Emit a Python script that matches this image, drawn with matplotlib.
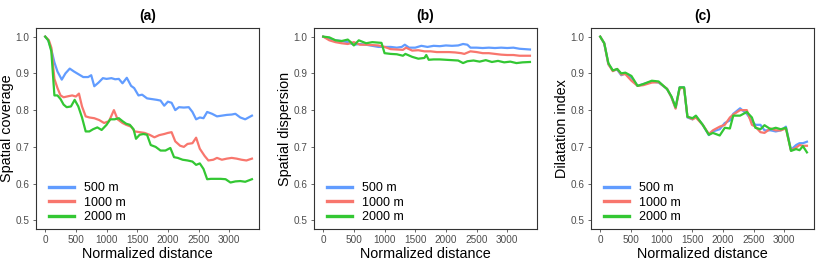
import matplotlib.pyplot as plt

plt.rcParams["font.family"] = ["Liberation Sans", "DejaVu Sans"]

LABELS = ["500 m", "1000 m", "2000 m"]
COLORS = ["#619CFF", "#F8766D", "#33C733"]
TITLES = ["(a)", "(b)", "(c)"]
YLABELS = ["Spatial coverage", "Spatial dispersion", "Dilatation index"]

# panel (a) spatial coverage
cov_500_x = [0, 50, 100, 150, 200, 270, 330, 400, 470, 540, 620, 700, 750, 800, 870,
             940, 1000, 1080, 1140, 1200, 1260, 1330, 1400, 1450, 1520, 1580, 1660,
             1740, 1820, 1880, 1940, 2000, 2060, 2120, 2180, 2260, 2340, 2400, 2460,
             2520, 2580, 2640, 2720, 2800, 2880, 2960, 3040, 3100, 3180, 3260, 3370]
cov_500_y = [1.0, 0.99, 0.965, 0.93, 0.905, 0.883, 0.9, 0.913, 0.905, 0.898, 0.89,
             0.89, 0.895, 0.865, 0.875, 0.887, 0.885, 0.887, 0.884, 0.885, 0.873,
             0.888, 0.866, 0.86, 0.84, 0.842, 0.832, 0.83, 0.828, 0.826, 0.812,
             0.823, 0.82, 0.8, 0.808, 0.807, 0.808, 0.795, 0.775, 0.78, 0.778, 0.795,
             0.79, 0.783, 0.785, 0.787, 0.788, 0.79, 0.78, 0.775, 0.785]
cov_1000_x = [0, 60, 100, 150, 200, 250, 300, 380, 440, 500, 550, 600, 660, 720, 800,
              880, 960, 1040, 1120, 1180, 1260, 1320, 1400, 1460, 1540, 1620, 1700,
              1780, 1860, 1940, 2000, 2060, 2120, 2200, 2260, 2320, 2400, 2460, 2520,
              2600, 2660, 2740, 2800, 2880, 2960, 3040, 3120, 3200, 3280, 3370]
cov_1000_y = [1.0, 0.99, 0.97, 0.885, 0.86, 0.84, 0.835, 0.838, 0.84, 0.837, 0.845,
              0.81, 0.783, 0.78, 0.778, 0.773, 0.765, 0.77, 0.8, 0.775, 0.765, 0.76,
              0.755, 0.742, 0.74, 0.738, 0.733, 0.726, 0.732, 0.735, 0.738, 0.74,
              0.715, 0.703, 0.7, 0.708, 0.71, 0.725, 0.695, 0.675, 0.663, 0.665,
              0.67, 0.665, 0.668, 0.67, 0.668, 0.665, 0.663, 0.668]
cov_2000_x = [0, 50, 100, 150, 200, 250, 300, 350, 420, 480, 540, 600, 660, 720, 780,
              850, 920, 1000, 1060, 1130, 1200, 1260, 1320, 1380, 1440, 1480, 1540,
              1600, 1660, 1720, 1800, 1880, 1960, 2040, 2100, 2160, 2240, 2320, 2400,
              2460, 2520, 2580, 2640, 2700, 2780, 2860, 2940, 3020, 3100, 3180, 3260,
              3370]
cov_2000_y = [1.0, 0.99, 0.96, 0.84, 0.84, 0.83, 0.815, 0.808, 0.81, 0.828, 0.81,
              0.78, 0.742, 0.742, 0.748, 0.753, 0.746, 0.76, 0.775, 0.775, 0.778,
              0.77, 0.763, 0.76, 0.748, 0.722, 0.733, 0.735, 0.733, 0.705, 0.7, 0.69,
              0.69, 0.697, 0.672, 0.67, 0.665, 0.663, 0.66, 0.651, 0.655, 0.64, 0.612,
              0.613, 0.613, 0.613, 0.612, 0.603, 0.606, 0.607, 0.605, 0.612]

# panel (b) spatial dispersion
dis_500_x = [0, 100, 200, 300, 400, 500, 600, 700, 800, 900, 1000, 1100, 1200, 1280,
             1330, 1400, 1500, 1600, 1700, 1800, 1900, 2000, 2100, 2200, 2280, 2350,
             2400, 2500, 2600, 2700, 2800, 2900, 3000, 3100, 3200, 3370]
dis_500_y = [1.0, 0.995, 0.99, 0.988, 0.985, 0.978, 0.98, 0.978, 0.975, 0.972, 0.972,
             0.972, 0.97, 0.972, 0.978, 0.97, 0.97, 0.975, 0.972, 0.975, 0.974, 0.976,
             0.975, 0.976, 0.98, 0.978, 0.97, 0.97, 0.969, 0.97, 0.969, 0.97, 0.969,
             0.97, 0.967, 0.965]
dis_1000_x = [0, 100, 200, 300, 400, 500, 600, 700, 800, 900, 1000, 1100, 1200, 1300,
              1350, 1450, 1550, 1650, 1750, 1850, 1950, 2050, 2150, 2250, 2300, 2400,
              2500, 2600, 2700, 2800, 2900, 3000, 3100, 3200, 3370]
dis_1000_y = [1.0, 0.99, 0.985, 0.982, 0.98, 0.985, 0.978, 0.978, 0.977, 0.976,
              0.972, 0.966, 0.965, 0.964, 0.97, 0.962, 0.963, 0.96, 0.96, 0.958, 0.958,
              0.958, 0.957, 0.955, 0.953, 0.96, 0.958, 0.955, 0.955, 0.953, 0.951,
              0.95, 0.95, 0.948, 0.948]
dis_2000_x = [0, 100, 200, 300, 400, 450, 500, 580, 700, 800, 950, 1000, 1100, 1200,
              1300, 1340, 1450, 1550, 1650, 1680, 1720, 1800, 1900, 2000, 2100, 2200,
              2280, 2350, 2450, 2550, 2650, 2750, 2850, 2950, 3050, 3150, 3250, 3370]
dis_2000_y = [1.0, 0.998, 0.99, 0.988, 0.992, 0.985, 0.976, 0.99, 0.982, 0.985, 0.983,
              0.955, 0.953, 0.952, 0.948, 0.953, 0.945, 0.94, 0.942, 0.95, 0.937,
              0.938, 0.938, 0.937, 0.936, 0.935, 0.928, 0.933, 0.935, 0.932, 0.936,
              0.931, 0.934, 0.93, 0.932, 0.928, 0.93, 0.931]

# panel (c) dilatation index
dil_x = [0, 66, 133, 205, 277, 343, 410, 509, 609, 703, 841, 952, 1090, 1162, 1229,
         1295, 1367, 1422, 1505, 1560, 1671, 1771, 1837, 1948, 2031, 2114, 2169, 2280,
         2390, 2473, 2529, 2612, 2678, 2778, 2861, 2944, 3027, 3110, 3193, 3249, 3304,
         3370]
dil_500_y = [1.0, 0.982, 0.925, 0.908, 0.91, 0.895, 0.9, 0.888, 0.866, 0.871, 0.878,
             0.875, 0.858, 0.835, 0.806, 0.862, 0.862, 0.78, 0.775, 0.783, 0.76, 0.732,
             0.742, 0.748, 0.765, 0.772, 0.79, 0.805, 0.79, 0.77, 0.76, 0.76, 0.745,
             0.745, 0.742, 0.745, 0.755, 0.692, 0.705, 0.71, 0.71, 0.714]
dil_1000_y = [1.0, 0.982, 0.925, 0.906, 0.912, 0.897, 0.898, 0.88, 0.866, 0.868,
              0.875, 0.876, 0.858, 0.835, 0.804, 0.86, 0.86, 0.782, 0.775, 0.78, 0.76,
              0.735, 0.745, 0.755, 0.76, 0.78, 0.788, 0.8, 0.8, 0.76, 0.755, 0.74,
              0.738, 0.75, 0.745, 0.745, 0.75, 0.69, 0.698, 0.705, 0.703, 0.703]
dil_2000_y = [1.0, 0.982, 0.928, 0.908, 0.912, 0.9, 0.902, 0.893, 0.866, 0.871, 0.88,
              0.878, 0.857, 0.837, 0.808, 0.862, 0.862, 0.782, 0.778, 0.785, 0.76,
              0.733, 0.738, 0.731, 0.752, 0.75, 0.785, 0.785, 0.795, 0.78, 0.752,
              0.748, 0.759, 0.748, 0.752, 0.748, 0.752, 0.689, 0.694, 0.691, 0.702,
              0.685]

panels = [
    [(cov_500_x, cov_500_y), (cov_1000_x, cov_1000_y), (cov_2000_x, cov_2000_y)],
    [(dis_500_x, dis_500_y), (dis_1000_x, dis_1000_y), (dis_2000_x, dis_2000_y)],
    [(dil_x, dil_500_y), (dil_x, dil_1000_y), (dil_x, dil_2000_y)],
]

fig = plt.figure(figsize=(8.3, 2.62), dpi=100)
lefts = [36 / 830, 314 / 830, 591 / 830]
for i, series in enumerate(panels):
    ax = fig.add_axes([lefts[i], 33 / 262, 223 / 830, 201 / 262])
    for (x, y), color, label in zip(series, COLORS, LABELS):
        ax.plot(x, y, color=color, lw=1.6, label=label, solid_joinstyle="round")
    ax.set_xlim(-150, 3485)
    ax.set_ylim(0.4765, 1.0235)
    ax.set_xticks([0, 500, 1000, 1500, 2000, 2500, 3000])
    ax.set_yticks([0.5, 0.6, 0.7, 0.8, 0.9, 1.0])
    ax.set_yticklabels(["0.5", "0.6", "0.7", "0.8", "0.9", "1.0"])
    ax.tick_params(labelsize=7.2, colors="#4D4D4D", length=2.5, width=0.6, pad=2)
    for sp in ax.spines.values():
        sp.set_color("#333333")
        sp.set_linewidth(0.8)
    ax.set_xlabel("Normalized distance", fontsize=10.4, labelpad=1)
    ax.set_ylabel(YLABELS[i], fontsize=10.4, labelpad=1)
    ax.set_title(TITLES[i], fontsize=10, fontweight="bold", pad=6)
    leg = ax.legend(loc="lower left", bbox_to_anchor=(0.012, -0.02), frameon=False,
                    fontsize=9, handlelength=2.0, handletextpad=0.8,
                    labelspacing=0.2, borderaxespad=0.3, borderpad=0.5)
    for line in leg.get_lines():
        line.set_linewidth(2.4)

fig.savefig("out.png", dpi=100)
